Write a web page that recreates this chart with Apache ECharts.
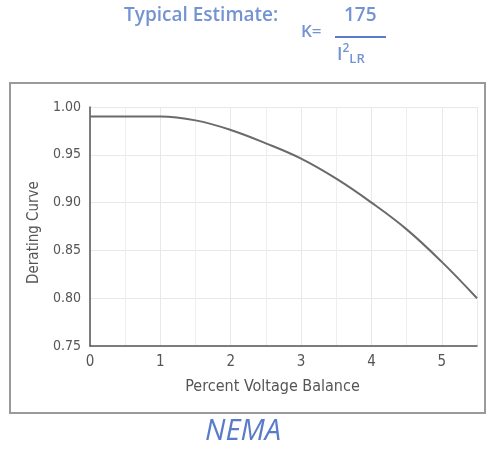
<!DOCTYPE html>
<html><head><meta charset="utf-8">
<script src="https://cdn.jsdelivr.net/npm/echarts@6/dist/echarts.min.js"></script>
<style>html,body{margin:0;padding:0;background:#fff}#c{width:493px;height:451px}</style>
</head><body><div id="c"></div>
<script>
const xValues = [0, 0.5, 1, 1.5, 2, 2.5, 3, 3.5, 4, 4.5, 5, 5.5];
const derating = [0.99, 0.99, 0.99, 0.986, 0.976, 0.962, 0.946, 0.925, 0.900, 0.872, 0.838, 0.800];
const yTicks = [0.75, 0.80, 0.85, 0.90, 0.95, 1.00];
const xTicks = [0, 1, 2, 3, 4, 5];

const blue = '#7393d2';
const axisFont = '"DejaVu Sans Condensed","Liberation Sans Narrow",sans-serif';
const chart = echarts.init(document.getElementById('c'));
chart.setOption({
  animation: false,
  graphic: [
    {type:'rect', shape:{x:10, y:83, width:475, height:330}, style:{fill:'#fff', stroke:'#9a9a9a', lineWidth:2}, z:-10},
    {type:'text', left:124, top:6, style:{text:'Typical Estimate:', fill:blue, font:'600 19px "Open Sans", sans-serif'}},
    {type:'text', left:301, top:24, style:{text:'K=', fill:blue, font:'600 17px "Open Sans", sans-serif'}},
    {type:'text', left:344, top:6, style:{text:'175', fill:blue, font:'600 19px "Open Sans", sans-serif'}},
    {type:'line', shape:{x1:335, y1:37, x2:386, y2:37}, style:{stroke:'#5a7cc8', lineWidth:2}},
    {type:'text', left:337, top:43, style:{rich:{a:{fill:blue, font:'600 18px "Open Sans", sans-serif'}, s:{fill:blue, font:'600 12px "Open Sans", sans-serif', verticalAlign:'top', padding:[0,0,10,0]}, b:{fill:blue, font:'600 13px "Open Sans", sans-serif', padding:[10,0,0,0]}}, text:'{a|I}{s|2}{b|LR}'}},
    {type:'text', left:205, top:417, style:{text:'NEMA', fill:'#5a7cc8', font:'italic 29px "Open Sans", sans-serif'}}
  ],
  grid: {left:90, right:16, top:107, bottom:105},
  xAxis: {
    type:'value', min:0, max:5.5, interval:1,
    name:'Percent Voltage Balance', nameLocation:'middle', nameGap:33,
    nameTextStyle:{color:'#555', fontSize:16, fontFamily:axisFont, padding:[0,22,0,0]},
    axisLine:{show:true, lineStyle:{color:'#555', width:1.5}},
    axisTick:{show:false},
    axisLabel:{color:'#555', fontSize:15, fontFamily:axisFont, margin:9, showMaxLabel:false,
      formatter: v => xTicks.includes(v) ? String(v) : ''},
    splitLine:{show:true, lineStyle:{color:'#e8e8e8', width:1}},
    minorTick:{show:false, splitNumber:2},
    minorSplitLine:{show:true, lineStyle:{color:'#eeeeee', width:1}}
  },
  yAxis: {
    type:'value', min:0.75, max:1.0, interval:0.05,
    name:'Derating Curve', nameLocation:'middle', nameGap:47, nameRotate:90,
    nameTextStyle:{color:'#555', fontSize:15, fontFamily:axisFont, fontWeight:500, padding:[0,12,0,0]},
    axisLine:{show:true, lineStyle:{color:'#555', width:1.5}},
    axisTick:{show:false},
    axisLabel:{color:'#555', fontSize:14, fontFamily:axisFont, margin:9,
      formatter: v => yTicks.find(t => Math.abs(t - v) < 1e-6).toFixed(2)},
    splitLine:{show:true, lineStyle:{color:'#e8e8e8', width:1}}
  },
  series: [{
    type:'line', smooth:0.4, symbol:'none',
    data: xValues.map((x, i) => [x, derating[i]]),
    lineStyle:{color:'#6a6a6a', width:2}
  }]
});
</script></body></html>
